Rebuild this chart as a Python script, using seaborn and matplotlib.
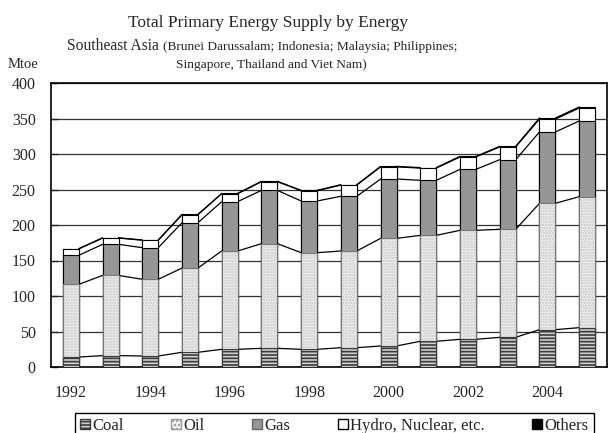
import numpy as np
import matplotlib
matplotlib.use("Agg")
import matplotlib.pyplot as plt
from matplotlib.patches import Patch
import seaborn as sns

# data (Mtoe)
years = [str(y) for y in range(1992, 2006)]
coal = [14, 16, 15.5, 20.7, 24.9, 26.3, 24.9, 27.2, 29.6, 36.2, 39, 41.8, 52.6, 55.4]
oil = [102.4, 113, 108, 118.7, 138.5, 147.4, 136.1, 136.2, 151.6, 149.2, 153.5, 152.1, 177.9, 184.5]
gas = [40.9, 43.8, 44.5, 63.9, 69.5, 75.1, 72.8, 77, 83.6, 77.5, 85.9, 98.1, 100.5, 106.6]
hydro = [9.0, 8.8, 10.5, 11.2, 11.2, 12.2, 14.5, 15.8, 17.1, 17.2, 17.5, 18.0, 18.2, 18.2]
others = [0.4, 0.4, 0.4, 0.5, 0.5, 0.5, 0.5, 0.6, 0.7, 0.7, 0.8, 0.8, 1.5, 1.5]

c_coal = np.array(coal)
c_oil = c_coal + np.array(oil)
c_gas = c_oil + np.array(gas)
c_hydro = c_gas + np.array(hydro)
c_total = c_hydro + np.array(others)

sns.set_style("white")
plt.rcParams["font.family"] = ["Liberation Serif", "DejaVu Serif"]
plt.rcParams["hatch.linewidth"] = 1.2

fig = plt.figure(figsize=(6.08, 4.33), dpi=100)
ax = fig.add_axes([51 / 608, 66 / 433, 556 / 608, 284 / 433])

W = 0.4
common = dict(ax=ax, width=W, saturation=1, errorbar=None, zorder=3)

# stacked bars drawn as cumulative totals, tallest first
sns.barplot(x=years, y=c_total, color="black", edgecolor="black", linewidth=0.8, **common)
sns.barplot(x=years, y=c_hydro, color="white", edgecolor="black", linewidth=0.8, **common)
sns.barplot(x=years, y=c_gas, color="#969696", edgecolor="black", linewidth=0.8, **common)
sns.barplot(x=years, y=c_oil, color="#f2f2f2", edgecolor="#c4c4c4", linewidth=0, hatch="......", **common)
sns.barplot(x=years, y=c_oil, fill=False, edgecolor="#777777", linewidth=0.8, **common)
sns.barplot(x=years, y=c_coal, color="#d0d0d0", edgecolor="#3a3a3a", linewidth=0.8, hatch="-----", **common)

# connecting lines between bar tops
n = len(years)
for cum in [c_coal, c_oil, c_gas, c_hydro, c_total]:
    xs, ys = [], []
    for i in range(n - 1):
        xs += [i + W / 2, i + 1 - W / 2, np.nan]
        ys += [cum[i], cum[i + 1], np.nan]
    ax.plot(xs, ys, color="black", lw=0.9, zorder=2)

ax.set_xlim(-0.5, n - 0.5)
ax.set_ylim(0, 400)
ax.set_yticks(range(0, 401, 50))
ax.set_xticks(range(0, n, 2))
ax.set_xticklabels(years[::2])
ax.set_xticks(np.arange(0.5, n - 1, 1), minor=True)
ax.set_xlabel("")
ax.set_ylabel("")
ax.set_axisbelow(True)
ax.yaxis.grid(True, color="#333333", lw=0.9, zorder=1)
ax.tick_params(axis="x", which="major", length=0, pad=13, labelsize=11.5)
ax.tick_params(axis="x", which="minor", direction="in", length=5, width=1, color="black")
ax.tick_params(axis="y", direction="in", length=5, width=1, pad=11, labelsize=11.5, left=True)
for s in ax.spines.values():
    s.set_visible(True)
    s.set_color("black")
    s.set_linewidth(1.2)

# titles
fig.text(268 / 608, 1 - 27 / 433, "Total Primary Energy Supply by Energy",
         ha="center", va="baseline", fontsize=12.5)
fig.text(67 / 608, 1 - 50 / 433, "Southeast Asia", ha="left", va="baseline", fontsize=11.2)
fig.text(163 / 608, 1 - 50 / 433, "(Brunei Darussalam; Indonesia; Malaysia; Philippines;",
         ha="left", va="baseline", fontsize=9.6)
fig.text(271 / 608, 1 - 68 / 433, "Singapore, Thailand and Viet Nam)",
         ha="center", va="baseline", fontsize=9.6)
fig.text(8 / 608, 1 - 68 / 433, "Mtoe", ha="left", va="baseline", fontsize=10.5)

handles = [
    Patch(facecolor="#d0d0d0", edgecolor="#3a3a3a", hatch="-----", label="Coal"),
    Patch(facecolor="#f2f2f2", edgecolor="#999999", hatch="....", label="Oil"),
    Patch(facecolor="#969696", edgecolor="#666666", label="Gas"),
    Patch(facecolor="white", edgecolor="black", label="Hydro, Nuclear, etc."),
    Patch(facecolor="black", edgecolor="black", label="Others"),
]
leg = fig.legend(handles=handles, loc="upper left", ncol=5, mode="expand",
                 bbox_to_anchor=(75 / 608, 1 - 413 / 433, 519 / 608, 0),
                 frameon=True, fancybox=False, edgecolor="black", framealpha=1,
                 borderpad=0.3, handlelength=0.6, handleheight=0.6,
                 handletextpad=0.15, fontsize=12, borderaxespad=0)
leg.get_frame().set_linewidth(1)

fig.savefig("out.png", dpi=100)
